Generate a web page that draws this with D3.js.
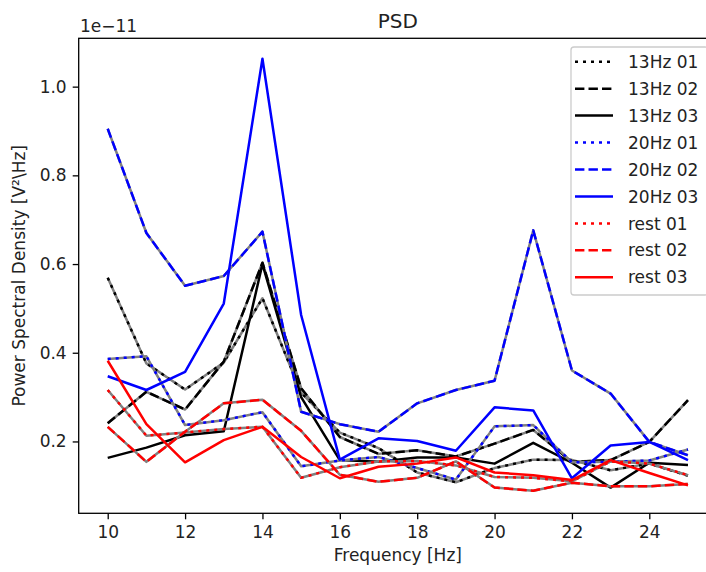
<!DOCTYPE html>
<html>
<head>
<meta charset="utf-8">
<script src="https://cdn.jsdelivr.net/npm/d3@7"></script>
<style>
  body { margin: 0; background: #fff; }
  svg { display: block; font-family: "DejaVu Sans", sans-serif; }
</style>
</head>
<body>
<svg id="chart" width="706" height="572"></svg>
<script>
// frequencies (Hz) and PSD values, in units of 1e-11 V²/Hz
const freqs = [10, 11, 12, 13, 14, 15, 16, 17, 18, 19, 20, 21, 22, 23, 24, 25];

const hz13_01 = [0.569, 0.376, 0.317, 0.378, 0.523, 0.310, 0.220, 0.185, 0.130, 0.108, 0.140, 0.159, 0.158, 0.135, 0.150, 0.123];
const hz13_02 = [0.241, 0.312, 0.272, 0.380, 0.603, 0.320, 0.210, 0.172, 0.180, 0.166, 0.195, 0.226, 0.154, 0.158, 0.199, 0.293];
const hz13_03 = [0.163, 0.186, 0.214, 0.223, 0.600, 0.300, 0.158, 0.154, 0.164, 0.164, 0.150, 0.197, 0.152, 0.096, 0.152, 0.147];
const hz20_01 = [0.386, 0.392, 0.237, 0.248, 0.266, 0.144, 0.157, 0.165, 0.140, 0.114, 0.234, 0.237, 0.153, 0.154, 0.157, 0.182];
const hz20_02 = [0.905, 0.670, 0.551, 0.573, 0.673, 0.267, 0.239, 0.222, 0.286, 0.316, 0.337, 0.676, 0.360, 0.308, 0.199, 0.169];
const hz20_03 = [0.347, 0.316, 0.357, 0.511, 1.063, 0.485, 0.159, 0.207, 0.201, 0.179, 0.277, 0.270, 0.117, 0.191, 0.199, 0.158];
const rest01  = [0.316, 0.213, 0.220, 0.228, 0.233, 0.118, 0.142, 0.155, 0.156, 0.146, 0.120, 0.118, 0.110, 0.155, 0.150, 0.124];
const rest02  = [0.233, 0.154, 0.222, 0.286, 0.294, 0.224, 0.125, 0.109, 0.118, 0.155, 0.096, 0.089, 0.107, 0.099, 0.099, 0.104];
const rest03  = [0.382, 0.239, 0.153, 0.203, 0.233, 0.165, 0.117, 0.143, 0.150, 0.164, 0.130, 0.124, 0.113, 0.158, 0.129, 0.101];

const seriesNames = ["13Hz 01", "13Hz 02", "13Hz 03", "20Hz 01", "20Hz 02", "20Hz 03", "rest 01", "rest 02", "rest 03"];
const seriesValues = [hz13_01, hz13_02, hz13_03, hz20_01, hz20_02, hz20_03, rest01, rest02, rest03];

const xTicks = [10, 12, 14, 16, 18, 20, 22, 24];
const yTicks = [0.2, 0.4, 0.6, 0.8, 1.0];
const xLimits = [9.25, 25.75];
const yLimits = [0.038, 1.109];

// styling per series: colour by condition, dash by run
const colors = { "13Hz": "#000000", "20Hz": "#0000ff", "rest": "#ff0000" };
const lw = 2.5;
const dashes = { "01": "3,5", "02": "9.4,4.1", "03": null };

const svg = d3.select("#chart");
const margin = { left: 78.7, top: 38.3, right: 717, bottom: 513.3 };

const x = d3.scaleLinear().domain(xLimits).range([margin.left, margin.right]);
const y = d3.scaleLinear().domain(yLimits).range([margin.bottom, margin.top]);

svg.append("defs").append("clipPath").attr("id", "plotclip")
    .append("rect")
    .attr("x", margin.left).attr("y", margin.top)
    .attr("width", margin.right - margin.left)
    .attr("height", margin.bottom - margin.top);

const line = d3.line()
    .x((d, i) => x(freqs[i]))
    .y(d => y(d));

const plot = svg.append("g").attr("clip-path", "url(#plotclip)");

seriesNames.forEach(function(name, k) {
    const parts = name.split(" ");
    const col = colors[parts[0]];
    const dash = dashes[parts[1]];
    // dashed/dotted lines show grey in their gaps
    if (dash) {
        plot.append("path")
            .attr("d", line(seriesValues[k]))
            .attr("fill", "none")
            .attr("stroke", "#808080")
            .attr("stroke-width", lw)
            .attr("stroke-linejoin", "round");
    }
    plot.append("path")
        .attr("d", line(seriesValues[k]))
        .attr("fill", "none")
        .attr("stroke", col)
        .attr("stroke-width", lw)
        .attr("stroke-linejoin", "round")
        .attr("stroke-dasharray", dash);
});

// axes
const xAxis = d3.axisBottom(x).tickValues(xTicks).tickSize(6).tickPadding(7);
const yAxis = d3.axisLeft(y).tickValues(yTicks).tickSize(6).tickPadding(6).tickFormat(d3.format(".1f"));

const gx = svg.append("g").attr("transform", `translate(0,${margin.bottom})`).call(xAxis);
const gy = svg.append("g").attr("transform", `translate(${margin.left},0)`).call(yAxis);
[gx, gy].forEach(function(g) {
    g.select(".domain").remove();
    g.selectAll("line").attr("stroke", "#000").attr("stroke-width", 1.3);
    g.selectAll("text").attr("font-size", 17).attr("fill", "#222").attr("font-family", "DejaVu Sans");
});

// spines
svg.append("rect")
    .attr("x", margin.left).attr("y", margin.top)
    .attr("width", margin.right - margin.left)
    .attr("height", margin.bottom - margin.top)
    .attr("fill", "none").attr("stroke", "#000").attr("stroke-width", 1.3);

// labels
svg.append("text").attr("x", (margin.left + margin.right) / 2).attr("y", 28)
    .attr("text-anchor", "middle").attr("font-size", 20).attr("fill", "#222").text("PSD");
svg.append("text").attr("x", 80).attr("y", 32)
    .attr("font-size", 17).attr("fill", "#222").text("1e\u221211");
svg.append("text").attr("x", (margin.left + margin.right) / 2).attr("y", 561)
    .attr("text-anchor", "middle").attr("font-size", 17).attr("fill", "#222").text("Frequency [Hz]");
svg.append("text")
    .attr("transform", `translate(25,${(margin.top + margin.bottom) / 2}) rotate(-90)`)
    .attr("text-anchor", "middle").attr("font-size", 17).attr("fill", "#222")
    .text("Power Spectral Density [V\u00b2\\Hz]");

// legend
const legend = svg.append("g");
legend.append("rect")
    .attr("x", 571).attr("y", 47).attr("width", 137).attr("height", 248)
    .attr("rx", 3).attr("fill", "#fff").attr("fill-opacity", 0.8)
    .attr("stroke", "#cccccc").attr("stroke-width", 1.3);

seriesNames.forEach(function(name, k) {
    const parts = name.split(" ");
    const cy = 61.7 + k * 26.95;
    legend.append("line")
        .attr("x1", 575).attr("x2", 613).attr("y1", cy).attr("y2", cy)
        .attr("stroke", colors[parts[0]]).attr("stroke-width", lw)
        .attr("stroke-dasharray", dashes[parts[1]]);
    legend.append("text")
        .attr("x", 628).attr("y", cy).attr("dy", "0.36em")
        .attr("font-size", 17).attr("fill", "#222").text(name);
});
</script>
</body>
</html>
